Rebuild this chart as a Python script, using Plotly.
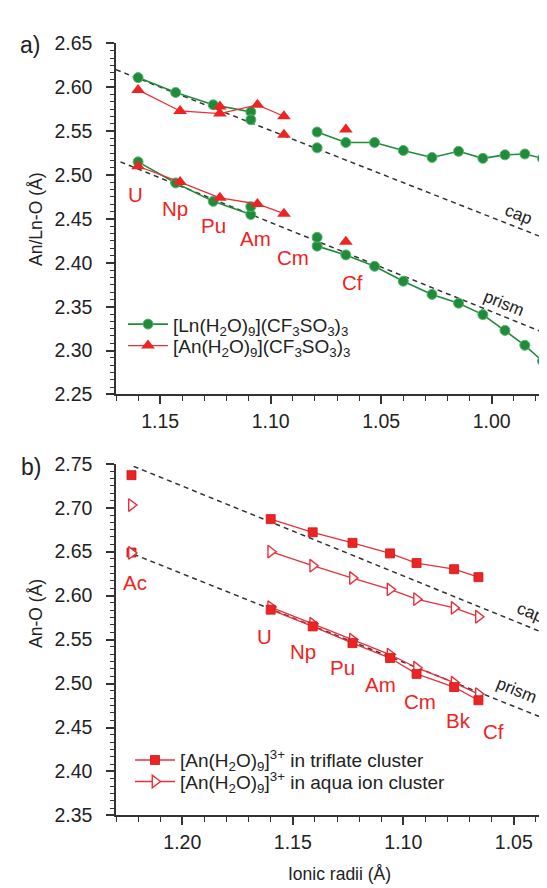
import plotly.graph_objects as go

# ---------------- data ----------------
# Panel a: lanthanide triflates (Ln) and actinide triflates (An)
ln_elements = ["La", "Ce", "Pr", "Nd", "Pm", "Sm", "Eu", "Gd", "Tb", "Dy", "Ho", "Er", "Tm", "Yb", "Lu"]
ln_radii = [1.160, 1.143, 1.126, 1.109, 1.093, 1.079, 1.066, 1.053, 1.040, 1.027, 1.015, 1.004, 0.994, 0.985, 0.977]
ln_cap = [2.611, 2.594, 2.580, 2.572, None, 2.549, 2.537, 2.537, 2.528, 2.520, 2.527, 2.519, 2.523, 2.524, 2.519]
ln_prism = [2.515, 2.491, 2.470, 2.455, None, 2.419, 2.409, 2.396, 2.379, 2.364, 2.354, 2.341, 2.323, 2.306, 2.288]
ln_extra_radii = [1.109, 1.109, 1.079, 1.079]
ln_extra_vals = [2.563, 2.464, 2.531, 2.429]

an_elements = ["U", "Np", "Pu", "Am", "Cm", "Bk", "Cf"]
an_radii = [1.160, 1.141, 1.123, 1.106, 1.094, 1.077, 1.066]
an_cap_a = [2.597, 2.573, 2.570, 2.580, 2.567, None, 2.552]
an_prism_a = [2.510, 2.492, 2.474, 2.467, 2.456, None, 2.424]
an_extra_radii_a = [1.123, 1.094]
an_extra_vals_a = [2.578, 2.546]

# Panel b: [An(H2O)9]3+ clusters
ac_radius = [1.223, 1.223]
triflate_cap = [2.687, 2.672, 2.660, 2.648, 2.637, 2.630, 2.621]
triflate_prism = [2.584, 2.565, 2.546, 2.529, 2.511, 2.496, 2.481]
aqua_cap = [2.650, 2.634, 2.620, 2.607, 2.596, 2.586, 2.576]
aqua_prism = [2.587, 2.568, 2.550, 2.533, 2.518, 2.501, 2.488]
ac_triflate = [2.737, 2.649]
ac_aqua = [2.703, 2.6485]

# dashed trend lines (end points)
cap_a_x, cap_a_y = [1.170, 0.975], [2.620, 2.427]
prism_a_x, prism_a_y = [1.168, 0.978], [2.515, 2.322]
cap_b_x, cap_b_y = [1.222, 1.032], [2.747, 2.553]
prism_b_x, prism_b_y = [1.222, 1.033], [2.647, 2.457]

# axis tick labels
xticks_a = [1.15, 1.10, 1.05, 1.00]
yticks_a = [2.25, 2.30, 2.35, 2.40, 2.45, 2.50, 2.55, 2.60, 2.65]
xticks_b = [1.20, 1.15, 1.10, 1.05]
yticks_b = [2.35, 2.40, 2.45, 2.50, 2.55, 2.60, 2.65, 2.70, 2.75]

labels_a = ["U", "Np", "Pu", "Am", "Cm", "Cf"]
labels_b = ["Ac", "U", "Np", "Pu", "Am", "Cm", "Bk", "Cf"]

# ---------------- style ----------------
W, H = 547, 888
FONT = "Liberation Sans, Arial, sans-serif"
GREEN = "#1f8c3b"
GREEN_EDGE = "#5cb56f"
RED = "#ee2424"
RED_LINE = "#e8303a"
DARK = "#333333"
TXT = "#222222"


def px_x(p):
    return p / W


def px_y(p):
    return 1 - p / H


fig = go.Figure()

# dashed lines
for xs, ys, xa, ya in [(cap_a_x, cap_a_y, "x", "y"), (prism_a_x, prism_a_y, "x", "y"),
                       (cap_b_x, cap_b_y, "x2", "y2"), (prism_b_x, prism_b_y, "x2", "y2")]:
    fig.add_trace(go.Scatter(x=xs, y=ys, xaxis=xa, yaxis=ya, mode="lines",
                             line=dict(color=DARK, width=1.5, dash="5px,4px"),
                             showlegend=False, hoverinfo="skip"))

gm = dict(symbol="circle", size=10, color=GREEN, line=dict(color=GREEN_EDGE, width=1))
rt = dict(symbol="triangle-up", size=12, color=RED, line=dict(color=RED, width=0))

# panel a - lanthanides
fig.add_trace(go.Scatter(x=ln_radii, y=ln_cap, mode="lines+markers", xaxis="x", yaxis="y",
                         line=dict(color=GREEN, width=1.6), marker=gm,
                         name="[Ln(H<sub>2</sub>O)<sub>9</sub>](CF<sub>3</sub>SO<sub>3</sub>)<sub>3</sub>",
                         legend="legend"))
fig.add_trace(go.Scatter(x=ln_radii, y=ln_prism, mode="lines+markers", xaxis="x", yaxis="y",
                         line=dict(color=GREEN, width=1.6), marker=gm, showlegend=False))
fig.add_trace(go.Scatter(x=ln_extra_radii, y=ln_extra_vals, mode="markers", xaxis="x", yaxis="y",
                         marker=gm, showlegend=False))
# panel a - actinides
fig.add_trace(go.Scatter(x=an_radii, y=an_cap_a, mode="lines+markers", xaxis="x", yaxis="y",
                         line=dict(color=RED_LINE, width=1.3), marker=rt,
                         name="[An(H<sub>2</sub>O)<sub>9</sub>](CF<sub>3</sub>SO<sub>3</sub>)<sub>3</sub>",
                         legend="legend2"))
fig.add_trace(go.Scatter(x=an_radii, y=an_prism_a, mode="lines+markers", xaxis="x", yaxis="y",
                         line=dict(color=RED_LINE, width=1.3), marker=rt, showlegend=False))
fig.add_trace(go.Scatter(x=an_extra_radii_a, y=an_extra_vals_a, mode="markers", xaxis="x", yaxis="y",
                         marker=rt, showlegend=False))

# panel b
sq = dict(symbol="square", size=9, color=RED, line=dict(color="#c81818", width=0.8))
ot = dict(symbol="triangle-right", size=11, color="white", line=dict(color=RED_LINE, width=1.4))
fig.add_trace(go.Scatter(x=an_radii, y=aqua_prism, mode="lines+markers", xaxis="x2", yaxis="y2",
                         line=dict(color=RED_LINE, width=1.3), marker=ot, showlegend=False))
fig.add_trace(go.Scatter(x=an_radii, y=triflate_prism, mode="lines+markers", xaxis="x2", yaxis="y2",
                         line=dict(color=RED_LINE, width=1.3), marker=sq, showlegend=False))
fig.add_trace(go.Scatter(x=ac_radius, y=ac_triflate, mode="markers", xaxis="x2", yaxis="y2",
                         marker=sq, showlegend=False))
fig.add_trace(go.Scatter(x=ac_radius, y=ac_aqua, mode="markers", xaxis="x2", yaxis="y2",
                         marker=ot, showlegend=False))
fig.add_trace(go.Scatter(x=an_radii, y=triflate_cap, mode="lines+markers", xaxis="x2", yaxis="y2",
                         line=dict(color=RED_LINE, width=1.3), marker=sq,
                         name="[An(H<sub>2</sub>O)<sub>9</sub>]<sup>3+</sup> in triflate cluster",
                         legend="legend3"))
fig.add_trace(go.Scatter(x=an_radii, y=aqua_cap, mode="lines+markers", xaxis="x2", yaxis="y2",
                         line=dict(color=RED_LINE, width=1.3), marker=ot,
                         name="[An(H<sub>2</sub>O)<sub>9</sub>]<sup>3+</sup> in aqua ion cluster",
                         legend="legend4"))

# ---------------- axes ----------------
x0 = 108
xdom = [px_x(x0), 1.0]
ppu = 2210.0  # pixels per unit radius
xr_a = [1.17, 1.17 - (W - x0) / ppu]
xr_b = [1.23, 1.23 - (W - x0) / ppu]
ydom_a = [px_y(385), px_y(25)]
ydom_b = [px_y(816.7), px_y(456)]


def xaxis(rng, ticks, anchor):
    return dict(domain=xdom, range=rng, anchor=anchor, showgrid=False, zeroline=False,
                showline=True, linecolor=DARK, linewidth=1.5, ticks="outside", ticklen=8,
                tickwidth=1.5, tickcolor=DARK, tickvals=ticks, tickformat=".2f",
                tickfont=dict(family=FONT, size=19.5, color=TXT),
                minor=dict(dtick=0.01, tick0=1.0, ticks="outside", ticklen=4.5, tickwidth=1.2,
                           tickcolor=DARK, showgrid=False))


def yaxis(rng, ticks, dom, anchor):
    return dict(domain=dom, range=rng, anchor=anchor, showgrid=False, zeroline=False,
                showline=True, linecolor=DARK, linewidth=1.5, ticks="outside", ticklen=8,
                tickwidth=1.5, tickcolor=DARK, tickvals=ticks, tickformat=".2f",
                tickfont=dict(family=FONT, size=19.5, color=TXT), ticklabelstandoff=10,
                minor=dict(dtick=0.05 / 6, tick0=2.0, ticks="outside", ticklen=4.5, tickwidth=1.2,
                           tickcolor=DARK, showgrid=False))


annotations = []
# element labels (positions in data coordinates)
pos_a = [(1.161, 2.478), (1.1433, 2.462), (1.1261, 2.442), (1.1071, 2.428), (1.0899, 2.406), (1.0632, 2.378)]
for lab, (lx, ly) in zip(labels_a, pos_a):
    annotations.append(dict(x=lx, y=ly, xref="x", yref="y", text=lab, showarrow=False,
                            xanchor="center", yanchor="middle",
                            font=dict(family=FONT, size=20.5, color=RED)))
pos_b = [(1.2214, 2.6144), (1.1626, 2.5533), (1.1454, 2.5367), (1.1273, 2.5178),
         (1.1105, 2.4989), (1.0924, 2.480), (1.0752, 2.4578), (1.0594, 2.4456)]
for lab, (lx, ly) in zip(labels_b, pos_b):
    annotations.append(dict(x=lx, y=ly, xref="x2", yref="y2", text=lab, showarrow=False,
                            xanchor="center", yanchor="middle",
                            font=dict(family=FONT, size=20.5, color=RED)))
# cap / prism labels
for txt, lx, ly, xr, yr in [("cap", 0.9878, 2.4555, "x", "y"), ("prism", 0.9945, 2.3535, "x", "y"),
                            ("cap", 1.0425, 2.5810, "x2", "y2"), ("prism", 1.0485, 2.4925, "x2", "y2")]:
    annotations.append(dict(x=lx, y=ly, xref=xr, yref=yr, text=txt, showarrow=False, textangle=22,
                            xanchor="center", yanchor="middle", borderpad=0,
                            font=dict(family=FONT, size=17, color=TXT)))
# panel letters
annotations.append(dict(x=px_x(22), y=px_y(27), xref="paper", yref="paper", text="a)", showarrow=False,
                        xanchor="center", yanchor="middle", font=dict(family=FONT, size=23, color=TXT)))
annotations.append(dict(x=px_x(23), y=px_y(459), xref="paper", yref="paper", text="b)", showarrow=False,
                        xanchor="center", yanchor="middle", font=dict(family=FONT, size=23, color=TXT)))
# axis titles
annotations.append(dict(x=px_x(28), y=px_y(206), xref="paper", yref="paper", text="An/Ln-O (Å)",
                        showarrow=False, textangle=-90, xanchor="center", yanchor="middle",
                        font=dict(family=FONT, size=17.5, color=TXT)))
annotations.append(dict(x=px_x(28), y=px_y(610), xref="paper", yref="paper", text="An-O (Å)",
                        showarrow=False, textangle=-90, xanchor="center", yanchor="middle",
                        font=dict(family=FONT, size=17.5, color=TXT)))
annotations.append(dict(x=px_x(331), y=px_y(877), xref="paper", yref="paper", text="Ionic radii (Å)",
                        showarrow=False, xanchor="center", yanchor="middle",
                        font=dict(family=FONT, size=17.5, color=TXT)))


def leg(xp, yp):
    return dict(x=px_x(xp), y=px_y(yp), xanchor="left", yanchor="middle", bgcolor="rgba(0,0,0,0)",
                font=dict(family=FONT, size=19, color=TXT), tracegroupgap=0, itemwidth=40,
                borderwidth=0)


fig.update_layout(
    width=W, height=H,
    margin=dict(l=0, r=0, t=0, b=0),
    paper_bgcolor="white", plot_bgcolor="white",
    font=dict(family=FONT, color=TXT),
    xaxis=xaxis(xr_a, xticks_a, "y"),
    yaxis=yaxis([2.25, 2.65], yticks_a, ydom_a, "x"),
    xaxis2=xaxis(xr_b, xticks_b, "y2"),
    yaxis2=yaxis([2.35, 2.75], yticks_b, ydom_b, "x2"),
    legend=leg(115, 313),
    legend2=leg(115, 335),
    legend3=leg(122, 760),
    legend4=leg(122, 782),
    annotations=annotations,
    showlegend=True,
)

fig.write_html("out.html")
